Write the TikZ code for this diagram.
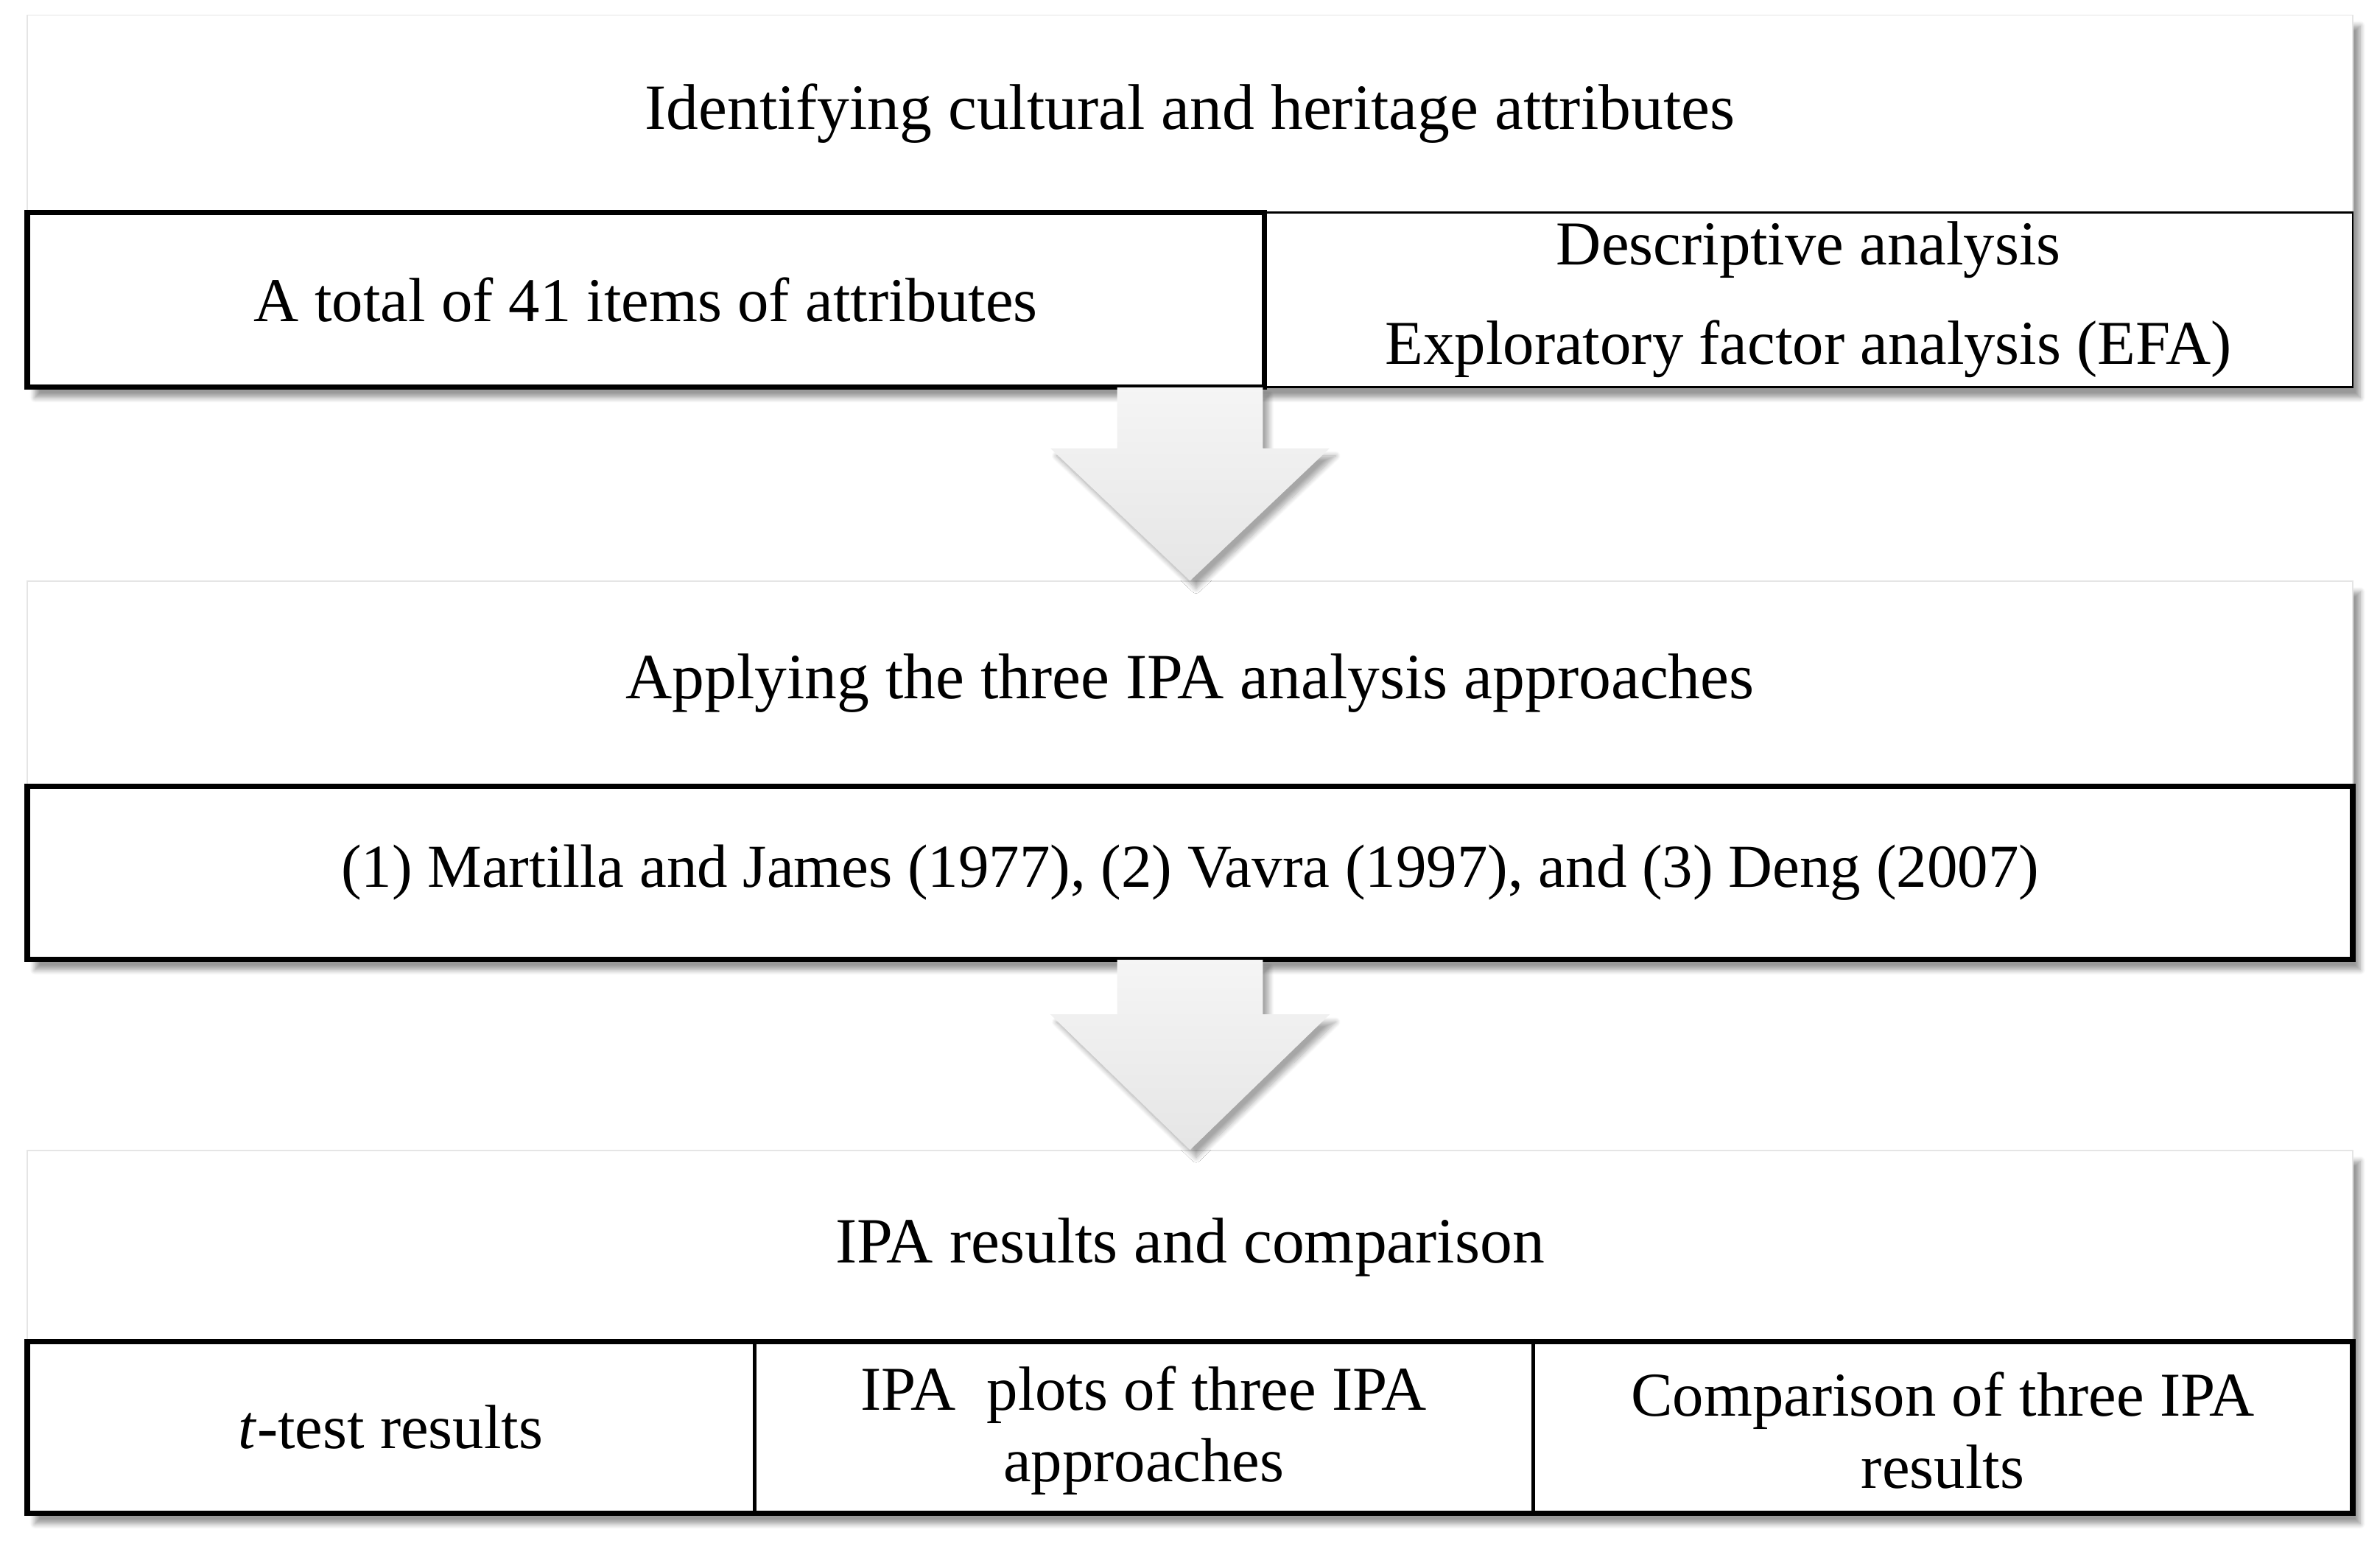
\documentclass[tikz,border=0pt]{standalone}
\usepackage{fontspec}
\setmainfont{Liberation Serif}
\usetikzlibrary{positioning}
\usetikzlibrary{calc}
\usetikzlibrary{shadows.blur}

\begin{document}
\begin{tikzpicture}
 \useasboundingbox (0,0) rectangle (31.36,-20.41);
 \tikzstyle{stage} = [draw=black!10, line width=.4pt, fill=white, inner sep=0pt, blur shadow={shadow xshift=.1cm, shadow yshift=-.14cm, shadow blur steps=8, shadow opacity=40}];
 \tikzstyle{txt} = [align=center, inner sep=0pt, font=\fontsize{23.4}{27}\selectfont];
 \tikzstyle{title} = [txt, font=\fontsize{24.2}{28}\selectfont];
 \tikzstyle{cell} = [txt, draw, line width=2pt];
 \tikzstyle{thincell} = [txt, draw, line width=.8pt];
 \tikzstyle{flow} = [top color=black!4, bottom color=black!10, draw=none, blur shadow={shadow xshift=.08cm, shadow yshift=-.1cm, shadow blur steps=10, shadow opacity=35}];

 % first stage
 \node (ident) [stage, minimum width=30.64cm, minimum height=4.9cm] at (15.68,-2.65) {};
 \node (idtitle) [title] at (15.68,-1.5) {Identifying cultural and heritage attributes};
 \node (desc) [thincell, minimum width=14.34cm, minimum height=2.3cm] at (23.83,-3.95) {Descriptive analysis\\[.36cm]Exploratory factor analysis (EFA)};
 \node (items) [cell, minimum width=16.3cm, minimum height=2.3cm] at (8.51,-3.95) {A total of 41 items of attributes};

 % second stage
 \node (apply) [stage, minimum width=30.64cm, minimum height=4.98cm] at (15.68,-10.15) {};
 \node (aptitle) [title] at (15.68,-9.0) {Applying the three IPA analysis approaches};
 \node (approaches) [cell, font=\fontsize{22.9}{27}\selectfont, minimum width=30.64cm, minimum height=2.28cm] at (15.68,-11.5) {(1) Martilla and James (1977), (2) Vavra (1997), and (3) Deng (2007)};

 % third stage
 \node (results) [stage, minimum width=30.64cm, minimum height=4.78cm] at (15.68,-17.55) {};
 \node (restitle) [title] at (15.68,-16.44) {IPA results and comparison};
 \node (resrow) [cell, minimum width=30.64cm, minimum height=2.26cm] at (15.68,-18.81) {};
 \node (ttest) [txt, minimum width=9.58cm, minimum height=2.26cm] at (5.15,-18.81) {\textit{t}-test results};
 \node (plots) [txt, minimum width=10.26cm, minimum height=2.26cm] at (15.07,-18.85) {IPA\ \ plots of three IPA\\approaches};
 \node (compare) [txt, minimum width=10.8cm, minimum height=2.26cm] at (25.6,-18.85) {Comparison of three IPA\\results};
 \draw [line width=1.4pt] (ttest.north east) -- (ttest.south east);
 \draw [line width=1.4pt] (plots.north east |- resrow.north) -- (plots.south east |- resrow.south);

 % block arrows
 \path [flow] ($(ident.south)+(-.96,0)$) -- ++(0,-.8) -- ++(-.88,0) -- (apply.north) -- ($(ident.south)+(1.84,-.8)$) -- ++(-.88,0) -- ($(ident.south)+(.96,0)$) -- cycle;
 \path [flow] ($(apply.south)+(-.96,0)$) -- ++(0,-.72) -- ++(-.88,0) -- (results.north) -- ($(apply.south)+(1.84,-.72)$) -- ++(-.88,0) -- ($(apply.south)+(.96,0)$) -- cycle;

\end{tikzpicture}
\end{document}
